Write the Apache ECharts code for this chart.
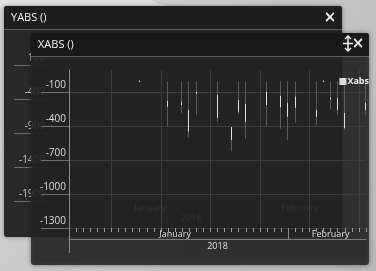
<!DOCTYPE html>
<html>
<head>
<meta charset="utf-8">
<script src="https://cdn.jsdelivr.net/npm/echarts@6/dist/echarts.min.js"></script>
<style>
  html, body { margin: 0; padding: 0; background: #c4c4c4; }
  #chart { width: 376px; height: 271px; }
</style>
</head>
<body>
<div id="chart"></div>
<script>
// 类目：2018-01-01 ~ 2018-02-12 每天一格
const days = []
for (let d = new Date(Date.UTC(2018, 0, 1)); d <= new Date(Date.UTC(2018, 1, 12)); d.setUTCDate(d.getUTCDate() + 1)) {
  days.push(d.toISOString().slice(0, 10))
}

// 周线（竖向网格）
const weekLines = ['2018-01-07', '2018-01-14', '2018-01-21', '2018-01-28', '2018-02-04', '2018-02-11']
// 月份 / 年份标签
const monthLabels = { '2018-01-16': 'January', '2018-02-07': 'February' }
const yearLabels = { '2018-01-22': '2018' }
const monthStart = ['2018-01-01', '2018-02-01']
// y 轴刻度标签
const yTicks = [-1300, -1000, -700, -400, -100]

// Xabs 数据
const candleDates = ['2018-01-11', '2018-01-15', '2018-01-17', '2018-01-18', '2018-01-19',
  '2018-01-22', '2018-01-24', '2018-01-25', '2018-01-26', '2018-01-29', '2018-01-31',
  '2018-02-01', '2018-02-02', '2018-02-05', '2018-02-06', '2018-02-07', '2018-02-08',
  '2018-02-09', '2018-02-12']
const openVals = [-5, -175, -180, -255, -95, -120, -405, -165, -200, -95, -130, -190, -135, -255, -5, -145, -150, -280, -190]
const closeVals = [5, -225, -210, -445, -110, -325, -520, -270, -360, -210, -230, -315, -235, -315, 5, -160, -255, -415, -255]
const lowVals = [-5, -400, -280, -500, -300, -360, -620, -290, -510, -400, -420, -520, -370, -390, -5, -250, -300, -430, -300]
const highVals = [5, 0, 0, 0, 0, 0, -405, 0, 0, 0, 0, 0, 0, 0, 5, 0, 0, 0, 0]

// 背后窗口 YABS 的 y 轴
const backMin = -1900
const backMax = 100
const backStep = 500

const wickData = days.map(day => {
  const i = candleDates.indexOf(day)
  return i < 0 ? '-' : [openVals[i], closeVals[i], lowVals[i], highVals[i]]
})
const bodyData = days.map(day => {
  const i = candleDates.indexOf(day)
  if (i < 0) return '-'
  const o = openVals[i]
  const c = closeVals[i]
  return [o, c, Math.min(o, c), Math.max(o, c)]
})

const font = 'Open Sans'
const chart = echarts.init(document.getElementById('chart'))

chart.setOption({
  animation: false,
  backgroundColor: '#c4c4c4',
  textStyle: { fontFamily: font },
  graphic: [
    // 背景
    { type: 'rect', z: 0, shape: { x: 0, y: 0, width: 376, height: 271 },
      style: { fill: new echarts.graphic.LinearGradient(0, 0, 1, 1, [
        { offset: 0, color: '#d6d6d6' }, { offset: 1, color: '#b8b8b8' }]) } },
    { type: 'polygon', z: 0, shape: { points: [[0, 0], [150, 0], [168, 7], [0, 7]] },
      style: { fill: '#e2e2e2' } },
    // 后窗口 YABS
    { type: 'rect', z: 1, shape: { x: 4, y: 6, width: 338, height: 231, r: 3 },
      style: { fill: '#282828', shadowBlur: 4, shadowColor: 'rgba(0,0,0,0.4)' } },
    { type: 'rect', z: 1, shape: { x: 4, y: 6, width: 338, height: 23, r: [3, 3, 0, 0] },
      style: { fill: '#1d1d1d' } },
    { type: 'line', z: 1, shape: { x1: 4, y1: 29.5, x2: 342, y2: 29.5 },
      style: { stroke: '#5e5e5e', lineWidth: 1 } },
    { type: 'text', z: 1, x: 11, y: 18,
      style: { text: 'YABS ()', fill: '#f0f0f0', font: '11px "Open Sans"', verticalAlign: 'middle' } },
    { type: 'text', z: 1, x: 330, y: 18,
      style: { text: '×', fill: '#f0f0f0', font: 'bold 15px "DejaVu Sans"', align: 'center', verticalAlign: 'middle' } },
    // 前窗口 XABS
    { type: 'rect', z: 3, shape: { x: 31, y: 33, width: 338, height: 232, r: 3 },
      style: { fill: 'rgba(36,36,36,0.85)', shadowBlur: 5, shadowColor: 'rgba(0,0,0,0.5)' } },
    { type: 'rect', z: 3, shape: { x: 31, y: 33, width: 338, height: 23, r: [3, 3, 0, 0] },
      style: { fill: 'rgba(22,22,22,0.85)' } },
    { type: 'line', z: 3, shape: { x1: 31, y1: 56.5, x2: 369, y2: 56.5 },
      style: { stroke: '#5e5e5e', lineWidth: 1 } },
    { type: 'text', z: 3, x: 38, y: 45,
      style: { text: 'XABS ()', fill: '#f0f0f0', font: '11px "Open Sans"', verticalAlign: 'middle' } },
    { type: 'polyline', z: 3, shape: { points: [[348, 36], [348, 51]] },
      style: { stroke: '#f0f0f0', lineWidth: 1.5 } },
    { type: 'polyline', z: 3, shape: { points: [[345, 39], [348, 36], [351, 39]] },
      style: { stroke: '#f0f0f0', lineWidth: 1.5, fill: null } },
    { type: 'polyline', z: 3, shape: { points: [[345, 48], [348, 51], [351, 48]] },
      style: { stroke: '#f0f0f0', lineWidth: 1.5, fill: null } },
    { type: 'polyline', z: 3, shape: { points: [[343, 43.5], [353, 43.5]] },
      style: { stroke: '#f0f0f0', lineWidth: 1.5 } },
    { type: 'text', z: 3, x: 358, y: 44,
      style: { text: '×', fill: '#f0f0f0', font: 'bold 15px "DejaVu Sans"', align: 'center', verticalAlign: 'middle' } }
  ],
  legend: {
    z: 6,
    right: 2,
    top: 72,
    icon: 'rect',
    itemWidth: 5,
    itemHeight: 5,
    itemGap: 3,
    data: ['Xabs'],
    textStyle: { color: '#f2f2f2', fontSize: 9, fontWeight: 'bold', fontFamily: font, padding: [0, 0, 0, -3] }
  },
  grid: [
    { left: 69, right: 10, top: 70, bottom: 43 },
    { left: 48, right: 42, top: 65, bottom: 70 }
  ],
  xAxis: [
    {
      gridIndex: 0, z: 4, type: 'category', data: days, boundaryGap: false, position: 'bottom',
      axisLine: { show: false, onZero: false },
      axisTick: { show: true, interval: 0, length: 4, lineStyle: { color: '#9a9a9a' } },
      axisLabel: {
        interval: (i, v) => !!monthLabels[v],
        formatter: v => monthLabels[v] || '',
        color: '#e0e0e0', fontSize: 9, margin: 2
      },
      splitLine: { show: true, interval: (i, v) => weekLines.includes(v), lineStyle: { color: '#3c3c3c' } }
    },
    {
      gridIndex: 0, z: 4, type: 'category', data: days, boundaryGap: false, position: 'bottom', offset: 11,
      axisLine: { show: true, onZero: false, lineStyle: { color: '#7c7c7c' } },
      axisTick: { show: true, inside: true, length: 11, interval: (i, v) => monthStart.includes(v), lineStyle: { color: '#8c8c8c' } },
      axisLabel: {
        interval: (i, v) => !!yearLabels[v],
        formatter: v => yearLabels[v] || '',
        color: '#e0e0e0', fontSize: 9, margin: 3
      },
      splitLine: { show: false }
    },
    {
      gridIndex: 0, z: 4, type: 'category', data: days, boundaryGap: false, position: 'bottom', offset: 11,
      axisLine: { show: false, onZero: false },
      axisTick: { show: true, length: 14, interval: (i) => i === 0, lineStyle: { color: '#8c8c8c' } },
      axisLabel: { show: false },
      splitLine: { show: false }
    },
    {
      gridIndex: 1, z: 2, type: 'category', data: days, boundaryGap: false, position: 'bottom',
      axisLine: { show: false, onZero: false }, axisTick: { show: false },
      axisLabel: {
        interval: (i, v) => !!monthLabels[v],
        formatter: v => monthLabels[v] || '',
        color: '#d0d0d0', fontSize: 9, margin: 3
      },
      splitLine: { show: false }
    },
    {
      gridIndex: 1, z: 2, type: 'category', data: days, boundaryGap: false, position: 'bottom', offset: 10,
      axisLine: { show: false, onZero: false }, axisTick: { show: false },
      axisLabel: {
        interval: (i, v) => !!yearLabels[v],
        formatter: v => yearLabels[v] || '',
        color: '#d0d0d0', fontSize: 9, margin: 3
      },
      splitLine: { show: false }
    }
  ],
  yAxis: [
    {
      gridIndex: 0, z: 4, type: 'value', position: 'left', min: -1300, max: 100, interval: 100,
      axisLine: { show: true, lineStyle: { color: '#8c8c8c' } },
      axisTick: { show: true, length: 28, customValues: yTicks, lineStyle: { color: '#6e6e6e' } },
      axisLabel: {
        customValues: yTicks, formatter: v => String(v),
        color: '#dcdcdc', fontSize: 10, margin: 3, verticalAlign: 'bottom', padding: [0, 0, 2, 0]
      },
      splitLine: { show: true, lineStyle: { color: '#3c3c3c' } }
    },
    {
      gridIndex: 1, z: 2, type: 'value', position: 'left', min: backMin, max: backMax, interval: backStep,
      axisLine: { show: false },
      axisTick: { show: true, length: 34, lineStyle: { color: '#6a6a6a' } },
      axisLabel: { formatter: v => String(v), color: '#d0d0d0', fontSize: 10, margin: 3, verticalAlign: 'bottom', padding: [0, 0, 2, 0] },
      splitLine: { show: false }
    }
  ],
  series: [
    {
      name: 'wick', type: 'candlestick', xAxisIndex: 0, yAxisIndex: 0, z: 5,
      barWidth: 1,
      itemStyle: { color: '#5a5a5a', color0: '#5a5a5a', borderColor: '#5a5a5a', borderColor0: '#5a5a5a', borderWidth: 1 },
      data: wickData
    },
    {
      name: 'Xabs', type: 'candlestick', xAxisIndex: 0, yAxisIndex: 0, z: 5,
      barWidth: 1,
      itemStyle: { color: '#dedede', color0: '#dedede', borderColor: '#dedede', borderColor0: '#dedede', borderWidth: 1 },
      data: bodyData
    }
  ]
})
</script>
</body>
</html>
